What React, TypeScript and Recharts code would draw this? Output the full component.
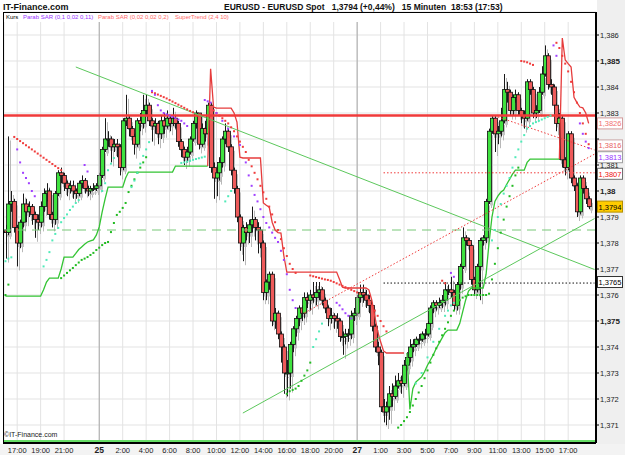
import React from "react";
import {
  ComposedChart,
  Bar,
  Line,
  XAxis,
  YAxis,
  CartesianGrid,
  ReferenceLine,
} from "recharts";

const FONT = "'Liberation Sans', Arial, sans-serif";
const BASE = 1.37;
const PIP = 0.0001;

// 15-minute candles, prices in pips above 1.3700 (open = previous close)
const firstOpen = 85;
const closes = [
  84, 95, 96, 86, 80, 88, 95, 92, 94, 91,
  89, 88, 94, 99, 100, 91, 89, 99, 107, 106,
  103, 101, 102, 100, 99, 103, 104, 101, 100, 101,
  101, 102, 106, 116, 120, 120, 117, 118, 117, 109,
  127, 128, 124, 121, 118, 127, 126, 131, 133, 127,
  125, 126, 122, 127, 125, 128, 126, 128, 126, 119,
  116, 113, 115, 120, 126, 130, 118, 124, 122, 133,
  109, 105, 107, 111, 120, 123, 117, 108, 101, 90,
  80, 86, 84, 87, 89, 86, 85, 80, 61, 65,
  68, 50, 53, 45, 40, 30, 30, 41, 47, 51,
  55, 53, 59, 58, 60, 59, 61, 62, 58, 55,
  51, 52, 51, 50, 44, 44, 45, 45, 52, 53,
  59, 61, 60, 58, 56, 48, 40, 38, 17, 15,
  17, 22, 21, 25, 27, 26, 33, 36, 40, 41,
  43, 43, 45, 45, 49, 55, 57, 56, 57, 58,
  62, 62, 61, 56, 64, 71, 82, 81, 79, 66,
  62, 71, 81, 82, 96, 123, 128, 122, 123, 127,
  139, 138, 131, 136, 137, 131, 129, 128, 142, 139,
  130, 131, 138, 145, 152, 141, 140, 133, 126, 128,
  112, 109, 122, 105, 102, 92, 105, 101, 97, 94,
];
const highs = [
  87, 121, 100, 97, 87, 89, 99, 97, 96, 95,
  92, 91, 96, 101, 103, 101, 92, 100, 108, 109,
  107, 104, 104, 104, 101, 104, 106, 105, 102, 102,
  103, 103, 107, 117, 128, 123, 121, 120, 120, 118,
  128, 137, 129, 125, 122, 128, 130, 137, 137, 134,
  128, 128, 127, 129, 130, 131, 129, 132, 129, 127,
  120, 117, 117, 121, 127, 131, 130, 126, 127, 134,
  134, 111, 110, 113, 121, 126, 124, 118, 109, 102,
  91, 87, 88, 89, 94, 90, 88, 86, 81, 66,
  69, 69, 55, 54, 46, 41, 35, 42, 48, 52,
  56, 56, 61, 61, 62, 65, 65, 65, 63, 59,
  56, 55, 53, 53, 51, 46, 47, 47, 54, 55,
  60, 64, 64, 62, 60, 57, 49, 42, 39, 20,
  19, 25, 26, 29, 30, 29, 35, 38, 43, 43,
  44, 45, 46, 47, 50, 56, 58, 58, 59, 60,
  65, 64, 67, 62, 65, 72, 86, 83, 82, 80,
  67, 72, 82, 83, 97, 124, 129, 129, 125, 132,
  145, 142, 139, 137, 139, 138, 132, 131, 143, 143,
  140, 133, 140, 148, 156, 153, 143, 141, 134, 130,
  129, 113, 123, 123, 106, 103, 106, 106, 102, 98,
];
const lows = [
  74, 83, 92, 84, 71, 78, 86, 88, 90, 87,
  82, 85, 86, 92, 96, 89, 86, 87, 98, 103,
  100, 98, 99, 97, 97, 98, 101, 99, 98, 99,
  100, 100, 101, 105, 115, 117, 111, 115, 113, 106,
  108, 125, 121, 118, 114, 117, 123, 124, 129, 125,
  119, 122, 118, 120, 122, 124, 123, 125, 124, 117,
  113, 110, 111, 114, 119, 124, 116, 117, 119, 121,
  107, 97, 98, 104, 109, 118, 115, 106, 99, 88,
  77, 73, 81, 80, 84, 81, 76, 78, 58, 58,
  62, 48, 47, 43, 34, 22, 21, 24, 38, 44,
  48, 50, 51, 55, 54, 57, 56, 58, 56, 53,
  48, 49, 47, 47, 42, 37, 41, 42, 43, 50,
  52, 57, 57, 55, 53, 46, 38, 33, 15, 11,
  10, 12, 17, 20, 24, 22, 25, 31, 34, 38,
  40, 41, 42, 43, 44, 48, 53, 54, 55, 55,
  56, 60, 59, 54, 54, 62, 70, 79, 77, 64,
  60, 61, 58, 79, 80, 95, 122, 115, 118, 121,
  126, 134, 129, 129, 134, 129, 126, 124, 127, 137,
  128, 128, 130, 137, 144, 139, 137, 131, 123, 112,
  109, 106, 108, 103, 100, 90, 91, 99, 95, 93,
];

// SuperTrend (2,4 10): segments starting at a candle index
const superUpSegs = [
  {
    start: 0,
    values: [
      59.6, 59.6, 59.6, 59.6, 59.6, 59.6, 59.6, 59.6, 59.6, 59.6,
      59.6, 59.6, 59.6, 62, 65, 66.5, 66.5, 66.5, 66.5, 70,
      74.6, 74.6, 74.6, 74.6, 76, 77.5, 78.5, 79.5, 80.4, 80.8,
      81.2, 83, 86.2, 92, 97, 101.5, 101.5, 101.5, 101.5, 101.5,
      101.5, 105, 107.3, 107.3, 107.3, 107.3, 107.3, 107.3, 107.3, 107.3,
      107.3, 107.3, 107.3, 107.3, 107.3, 107.3, 107.3, 107.3, 109.6, 109.6,
      109.6, 109.6, 109.6, 109.6, 109.6, 109.6, 109.6, 109.6, 109.6, 109.6,
    ],
  },
  {
    start: 137,
    values: [
      37.7, 16, 24,
      26.5, 27.5, 28.5, 30.5, 33, 35, 37, 39.5, 41.5, 43.5,
      45.5, 46.5, 46.5, 46.5, 46.5, 49, 53.5, 58, 61.5, 62.7,
      62.7, 62.7, 62.7, 62.7, 68, 80, 90, 96, 98, 99.5,
      100.4, 102.5, 104.5, 106.5, 108, 108, 108, 108, 111, 112.3,
      112.3, 112.3, 112.3, 112.3, 112.3, 112.3, 112.3, 112.3, 112.3, 112.3,
    ],
  },
];
const superDnSegs = [
  {
    start: 69,
    values: [
      109.6,
      147, 132.3, 131.9, 131.9, 131.9, 131.9, 131.9, 131.9, 130, 126.5,
      113, 112.7, 112.7, 112.7, 112.7, 112.7, 112.7, 112.7, 95.4, 94.5,
      93.8, 88, 85, 84, 83.8, 75, 68.8, 68.8, 68.8, 68.8,
      68.8, 68.8, 68.8, 68.8, 68.8, 68.8, 68.8, 68.8, 68.8, 68.8,
      68.8, 68.8, 68.8, 68.8, 66, 63, 62.7, 62.7, 62.7, 62.7,
      62.7, 62.7, 62.7, 62.7, 62, 58, 52, 46, 42, 38.5,
      37.7, 37.7, 37.7, 37.7, 37.7, 37.7, 37.7,
    ],
  },
  { start: 189, values: [112.3, 158.8, 150.4, 149, 147.7, 136, 134, 132.3, 132, 130, 126] },
];

// Parabolic SAR dots as [candle index, pips]
const sarRed: [number, number][] = [
  [3, 120.8], [4, 120], [5, 119.2], [6, 118.4], [7, 117.6], [8, 116.8], [9, 116], [10, 115.2],
  [11, 114.4], [12, 113.6], [13, 112.8], [14, 112], [15, 111.2], [16, 110.4], [17, 109.6], [18, 108.8], [19, 108],
  [50, 138], [51, 137.6], [52, 137.1], [53, 136.6], [54, 136.1], [55, 135.6], [56, 135], [57, 134.4],
  [58, 133.8], [59, 133.2], [60, 132.6], [61, 132], [62, 131.4], [63, 130.8], [64, 130.3],
  [71, 131], [72, 130], [73, 129], [74, 128], [75, 127], [76, 126], [77, 124.5], [78, 123], [79, 121],
  [80, 119], [81, 117], [82, 115], [83, 112], [84, 109.5], [85, 107], [86, 104.5], [87, 102], [88, 99.5],
  [89, 97], [90, 94], [91, 91], [92, 88], [93, 85], [94, 81.5], [95, 78], [96, 75], [97, 72], [98, 70], [99, 68.5],
  [104, 67.5], [105, 67.2], [106, 66.9], [107, 66.6], [108, 66.3], [109, 66], [110, 65.8], [111, 65.5],
  [112, 65], [113, 64.5], [114, 64], [115, 63.5], [116, 63], [117, 62.5], [118, 62], [119, 61.5], [120, 61], [121, 60.5],
  [123, 59], [124, 58], [125, 56], [126, 54], [127, 52], [128, 50], [129, 48], [130, 46],
  [149, 65.5], [150, 64.5],
  [176, 150], [177, 149.8], [178, 149.5], [179, 149], [180, 148.5],
  [188, 157], [189, 155], [190, 152], [191, 149], [192, 146], [193, 142], [194, 138], [195, 134],
  [196, 130], [197, 126], [198, 122], [199, 118],
];
const sarGreen: [number, number][] = [
  [0, 60], [1, 64],
  [19, 66.5], [20, 67.5], [21, 68.5], [22, 69.5], [23, 70.4], [24, 71.5], [25, 72.5], [26, 73.5], [27, 74],
  [28, 74.6], [29, 75.4], [30, 76.2], [31, 77.3], [32, 78.2], [33, 79.2], [34, 80], [35, 80.4], [36, 84.2],
  [37, 87.7], [38, 90.8], [39, 92], [40, 93.5], [41, 95.4], [42, 99.6], [43, 102], [44, 104.5], [45, 107],
  [46, 109], [47, 111], [48, 113],
  [96, 22], [97, 23], [98, 23.5], [99, 24], [100, 25], [101, 27], [102, 29], [103, 31], [104, 34],
  [134, 9], [135, 10], [136, 11.5], [137, 13], [138, 15], [139, 17.5], [140, 20], [141, 22.5], [142, 25],
  [143, 28], [144, 31], [145, 34], [146, 37], [147, 39.5], [148, 42], [149, 44.5], [150, 47], [151, 49.5],
  [152, 52], [153, 54], [154, 56], [155, 58], [156, 59], [157, 59.5], [158, 60], [159, 60], [160, 60],
  [161, 60], [162, 60], [163, 60], [164, 60], [165, 60.5], [166, 66], [167, 72], [168, 78], [169, 84],
  [170, 89], [171, 94], [172, 98], [173, 102], [174, 106], [175, 109],
];
const sarPurple: [number, number][] = [
  [4, 116], [5, 111], [6, 107], [7, 105], [8, 103], [9, 100], [10, 98],
  [27, 110], [28, 107.5],
  [50, 138.5], [51, 137], [52, 133], [53, 131], [54, 130], [55, 129.5], [56, 129], [57, 128.5],
  [58, 128], [59, 127.5], [60, 127], [61, 126], [62, 125],
  [68, 135], [69, 134.5], [70, 134],
  [72, 130], [74, 127], [76, 124], [78, 121], [80, 117.7], [82, 111], [83, 106], [84, 102], [85, 98.5],
  [86, 96], [87, 93], [88, 90], [89, 87.7], [90, 86], [91, 84], [92, 82], [93, 80.4], [94, 77], [95, 73.5],
  [96, 68], [97, 62], [98, 58], [99, 55],
  [113, 57], [114, 56], [115, 54.5], [116, 53], [117, 52], [118, 51],
  [152, 68.5], [153, 67],
  [187, 156], [188, 152],
  [196, 126], [197, 122], [198, 119], [199, 116.5],
];
const sarCyan: [number, number][] = [
  [0, 73], [1, 74], [2, 74.5],
  [13, 71], [14, 73.5], [15, 76.5], [16, 81], [17, 83.5], [18, 85.8], [19, 88], [20, 89.6], [21, 91],
  [22, 92.7], [23, 94], [24, 95.4], [25, 96.5],
  [33, 100], [34, 103], [35, 108], [36, 110.5], [37, 112.7],
  [43, 101.5], [44, 104], [45, 107], [46, 110.5], [47, 113.5], [48, 116], [49, 118.8],
  [60, 110.8], [61, 111], [62, 111.3], [63, 111.6], [64, 112], [65, 112.3], [66, 112.6], [67, 112.9], [68, 113.2],
  [75, 96], [76, 98], [77, 100],
  [105, 40], [106, 43], [107, 46], [108, 49],
  [140, 26], [142, 30], [144, 36], [146, 42], [148, 47], [150, 52], [151, 54], [152, 56], [153, 57],
  [166, 81], [167, 85], [168, 90], [169, 95], [170, 99], [171, 102], [172, 105], [173, 109], [174, 113],
  [175, 116], [176, 119], [177, 121.5], [178, 124], [179, 125], [180, 126], [181, 126.5], [182, 127],
  [183, 127.5], [184, 128], [185, 128.5], [186, 129],
];

// time axis
const tickIdx = [4, 12, 20, 32, 40, 48, 56, 64, 72, 80, 88, 96, 104, 112, 120, 128, 136, 144, 152, 160, 168, 176, 184, 192];
const tickLabels = [
  "17:00", "19:00", "21:00", "25", "2:00", "4:00", "6:00", "8:00", "10:00", "12:00", "14:00", "16:00",
  "18:00", "20:00", "27", "1:00", "3:00", "5:00", "7:00", "9:00", "11:00", "13:00", "15:00", "17:00",
];
const dayLabels = ["25", "27"];
const dayIdx = [32, 120];
const yTicks = [1.371, 1.372, 1.373, 1.374, 1.375, 1.376, 1.377, 1.378, 1.379, 1.38, 1.381, 1.382, 1.383, 1.384, 1.385, 1.386];
const boldTicks = [1.375, 1.38, 1.385];
const coveredTicks = [1.382]; // hidden behind the price boxes

// price boxes on the right axis
const boxValues = [1.3826, 1.3816, 1.3813, 1.3807, 1.3794, 1.3765];
const boxLooks = [
  { fill: "#fff", stroke: "#d49a9a", color: "#f07070", dy: 0 },
  { fill: "#fff", stroke: "#c9a4a4", color: "#e86464", dy: -4 },
  { fill: "#fff", stroke: "#a0a0a0", color: "#9933ff", dy: 0 },
  { fill: "#fff", stroke: "#707070", color: "#ee1111", dy: 1 },
  { fill: "#ffcc00", stroke: "#b38f00", color: "#000", dy: 0 },
  { fill: "#fff", stroke: "#333", color: "#000", dy: 0 },
];

const EXTRA_SLOTS = 2;
const px = (p: number | null | undefined) => (p == null ? null : +(BASE + p * PIP).toFixed(5));

const rows: any[] = Array.from({ length: closes.length + EXTRA_SLOTS }, (_, i) => {
  if (i >= closes.length) return { i };
  const o = i === 0 ? firstOpen : closes[i - 1];
  return {
    i,
    o: px(o),
    c: px(closes[i]),
    h: px(highs[i]),
    l: px(lows[i]),
    range: [px(lows[i]), px(highs[i])],
  };
});
superUpSegs.forEach((s) => s.values.forEach((v, k) => (rows[s.start + k].stUp = px(v))));
superDnSegs.forEach((s) => s.values.forEach((v, k) => (rows[s.start + k].stDn = px(v))));
const addDots = (key: string, pts: [number, number][]) => pts.forEach(([i, p]) => (rows[i][key] = px(p)));
addDots("sr", sarRed);
addDots("sg", sarGreen);
addDots("sp", sarPurple);
addDots("sc", sarCyan);

const fmt = (v: number) => v.toFixed(3).replace(/0+$/, "").replace(".", ",");
const fmt4 = (v: number) => v.toFixed(4).replace(".", ",");

const Candle = (props: any) => {
  const { x, y, width, height, payload } = props;
  if (!payload || payload.c == null) return <g />;
  const { o, c, h, l } = payload;
  const cx = Math.round(x + width / 2) + 0.5;
  const k = h === l ? 0 : height / (h - l);
  const yOf = (v: number) => y + (h - v) * k;
  const top = yOf(Math.max(o, c));
  const bh = Math.max(1, yOf(Math.min(o, c)) - top);
  const up = c >= o;
  return (
    <g>
      <line x1={cx + 2} x2={cx + 2} y1={y + 4} y2={y + height + 4} stroke="#b8b8b8" />
      <rect x={cx + 0.5} y={top + 4} width={3} height={bh} fill="#c4c4c4" />
      <line x1={cx} x2={cx} y1={y} y2={y + height} stroke="#1a1a1a" />
      <rect x={cx - 2} y={top} width={4} height={bh} fill={up ? "#3fe23f" : "#ee5a5a"} stroke="#111" strokeWidth={0.8} />
    </g>
  );
};

const square = (color: string) => (p: any) => {
  const { cx, cy, index, value } = p;
  if (value == null || cy == null || Number.isNaN(cy)) return <g key={`n${index}`} />;
  return <rect key={`d${index}`} x={cx - 1} y={cy - 1} width={2} height={2} fill={color} />;
};

const XTick = ({ x, y, payload }: any) => {
  const label = tickLabels[tickIdx.indexOf(payload.value)] ?? "";
  const bold = dayLabels.includes(label);
  return (
    <text x={x} y={y + 8} textAnchor="middle" fontSize={bold ? 8.5 : 7.5} fontWeight={bold ? 700 : 400} fill="#222" fontFamily={FONT}>
      {label}
    </text>
  );
};

const YTick = ({ x, y, payload }: any) => {
  const v = payload.value as number;
  if (coveredTicks.some((b) => Math.abs(b - v) < 1e-7)) return <g />;
  const bold = boldTicks.some((b) => Math.abs(b - v) < 1e-7);
  return (
    <text x={x} y={y + 3} fontSize={bold ? 8 : 7.5} fontWeight={bold ? 700 : 400} fill="#222" fontFamily={FONT}>
      {fmt(v)}
    </text>
  );
};

const BoxLabel = ({ viewBox, text, look }: any) => {
  const x = (viewBox?.x ?? 4) + (viewBox?.width ?? 592) + 1;
  const y = (viewBox?.y ?? 0) + look.dy;
  return (
    <g>
      <rect x={x + 0.5} y={y - 5.5} width={25} height={11} fill={look.fill} stroke={look.stroke} />
      <text x={x + 13} y={y + 3} textAnchor="middle" fontSize={7.5} fill={look.color} fontFamily={FONT}>
        {text}
      </text>
    </g>
  );
};

export default function App() {
  return (
    <div style={{ position: "absolute", left: 0, top: 0, width: 625, height: 455, background: "#fff", fontFamily: FONT, overflow: "hidden" }}>
      <div style={{ position: "absolute", left: 597, top: 0, width: 28, height: 455, background: "#efefef" }} />
      <div style={{ position: "absolute", left: 0, top: 444, width: 625, height: 11, background: "#f3f3f3" }} />
      <div style={{ position: "absolute", left: 0, top: 0 }}>
        <ComposedChart width={625} height={455} data={rows} margin={{ top: 12, right: 0, bottom: 0, left: 4 }} barCategoryGap={0} barGap={0}>
          <CartesianGrid stroke="#e3e3e3" />
          <XAxis
            dataKey="i"
            ticks={tickIdx}
            interval={0}
            height={12}
            tickSize={0}
            tickLine={false}
            axisLine={{ stroke: "#000", strokeWidth: 2 }}
            tick={<XTick />}
          />
          <YAxis
            orientation="right"
            width={29}
            domain={[1.370308, 1.386885]}
            allowDataOverflow
            ticks={yTicks}
            interval={0}
            tickSize={3}
            tickMargin={1}
            tickLine={{ stroke: "#000" }}
            axisLine={{ stroke: "#000", strokeWidth: 2 }}
            tick={<YTick />}
          />
          {dayIdx.map((d) => (
            <ReferenceLine key={d} x={d} stroke="#a8a8a8" />
          ))}
          <ReferenceLine y={1.3785} stroke="#78c878" strokeDasharray="9 6" />
          <ReferenceLine y={1.370385} stroke="#66dd66" strokeWidth={2} />
          <Bar dataKey="range" shape={<Candle />} isAnimationActive={false} />
          <Line dataKey="stUp" stroke="#33c433" strokeWidth={1.3} dot={false} activeDot={false} isAnimationActive={false} />
          <Line dataKey="stDn" stroke="#e63c3c" strokeWidth={1.3} dot={false} activeDot={false} isAnimationActive={false} />
          <Line dataKey="sr" stroke="none" dot={square("#f03c3c")} activeDot={false} isAnimationActive={false} />
          <Line dataKey="sg" stroke="none" dot={square("#22bb22")} activeDot={false} isAnimationActive={false} />
          <Line dataKey="sp" stroke="none" dot={square("#a040ff")} activeDot={false} isAnimationActive={false} />
          <Line dataKey="sc" stroke="none" dot={square("#50eab8")} activeDot={false} isAnimationActive={false} />
          <ReferenceLine y={1.3829} stroke="#f03a3a" strokeWidth={2.5} />
          <ReferenceLine segment={[{ x: 24, y: 1.38477 }, { x: 201, y: 1.37698 }]} stroke="#5cc85c" />
          <ReferenceLine segment={[{ x: 81, y: 1.37146 }, { x: 201, y: 1.37894 }]} stroke="#5cc85c" />
          <ReferenceLine segment={[{ x: 102, y: 1.37531 }, { x: 201, y: 1.38142 }]} stroke="#f03a3a" strokeDasharray="1.5 2" />
          <ReferenceLine segment={[{ x: 168, y: 1.38285 }, { x: 201, y: 1.38158 }]} stroke="#f03a3a" strokeDasharray="1.5 2" />
          <ReferenceLine segment={[{ x: 129, y: 1.3807 }, { x: 201, y: 1.3807 }]} stroke="#f03a3a" strokeDasharray="1.5 2" />
          <ReferenceLine segment={[{ x: 129, y: 1.37646 }, { x: 201, y: 1.37646 }]} stroke="#111" strokeDasharray="1.5 2" />
          {boxValues.map((v, k) => (
            <ReferenceLine key={v} y={v} stroke="none" label={<BoxLabel text={fmt4(v)} look={boxLooks[k]} />} />
          ))}
        </ComposedChart>
      </div>
      {/* frame and legend strip */}
      <div style={{ position: "absolute", left: 3, top: 12, width: 593, height: 431, borderLeft: "1px solid #000", borderTop: "1px solid #000", pointerEvents: "none" }} />
      <div style={{ position: "absolute", left: 4, top: 13, width: 591, height: 9, background: "#fff", fontSize: 6, lineHeight: "9px", whiteSpace: "nowrap" }}>
        <span style={{ position: "absolute", left: 2, color: "#000" }}>Kurs</span>
        <span style={{ position: "absolute", left: 19, color: "#9933ff" }}>Parab SAR (0,1 0,02 0,11)</span>
        <span style={{ position: "absolute", left: 94, color: "#ff6a6a" }}>Parab SAR (0,02 0,02 0,2)</span>
        <span style={{ position: "absolute", left: 171, color: "#ff6a6a" }}>SuperTrend (2,4 10)</span>
      </div>
      <div style={{ position: "absolute", left: 3, top: 2, fontSize: 9, fontWeight: 700, color: "#111", whiteSpace: "nowrap" }}>IT-Finance.com</div>
      <div style={{ position: "absolute", left: 224, top: 2, fontSize: 8.5, fontWeight: 700, color: "#111", whiteSpace: "nowrap" }}>
        EURUSD - EURUSD Spot&nbsp;&nbsp;&nbsp;1,3794 (+0,44%)&nbsp;&nbsp;&nbsp;15 Minuten&nbsp;&nbsp;18:53 (17:53)
      </div>
      <div style={{ position: "absolute", left: 4, top: 431, fontSize: 7, color: "#222", whiteSpace: "nowrap" }}>©IT-Finance.com</div>
    </div>
  );
}
